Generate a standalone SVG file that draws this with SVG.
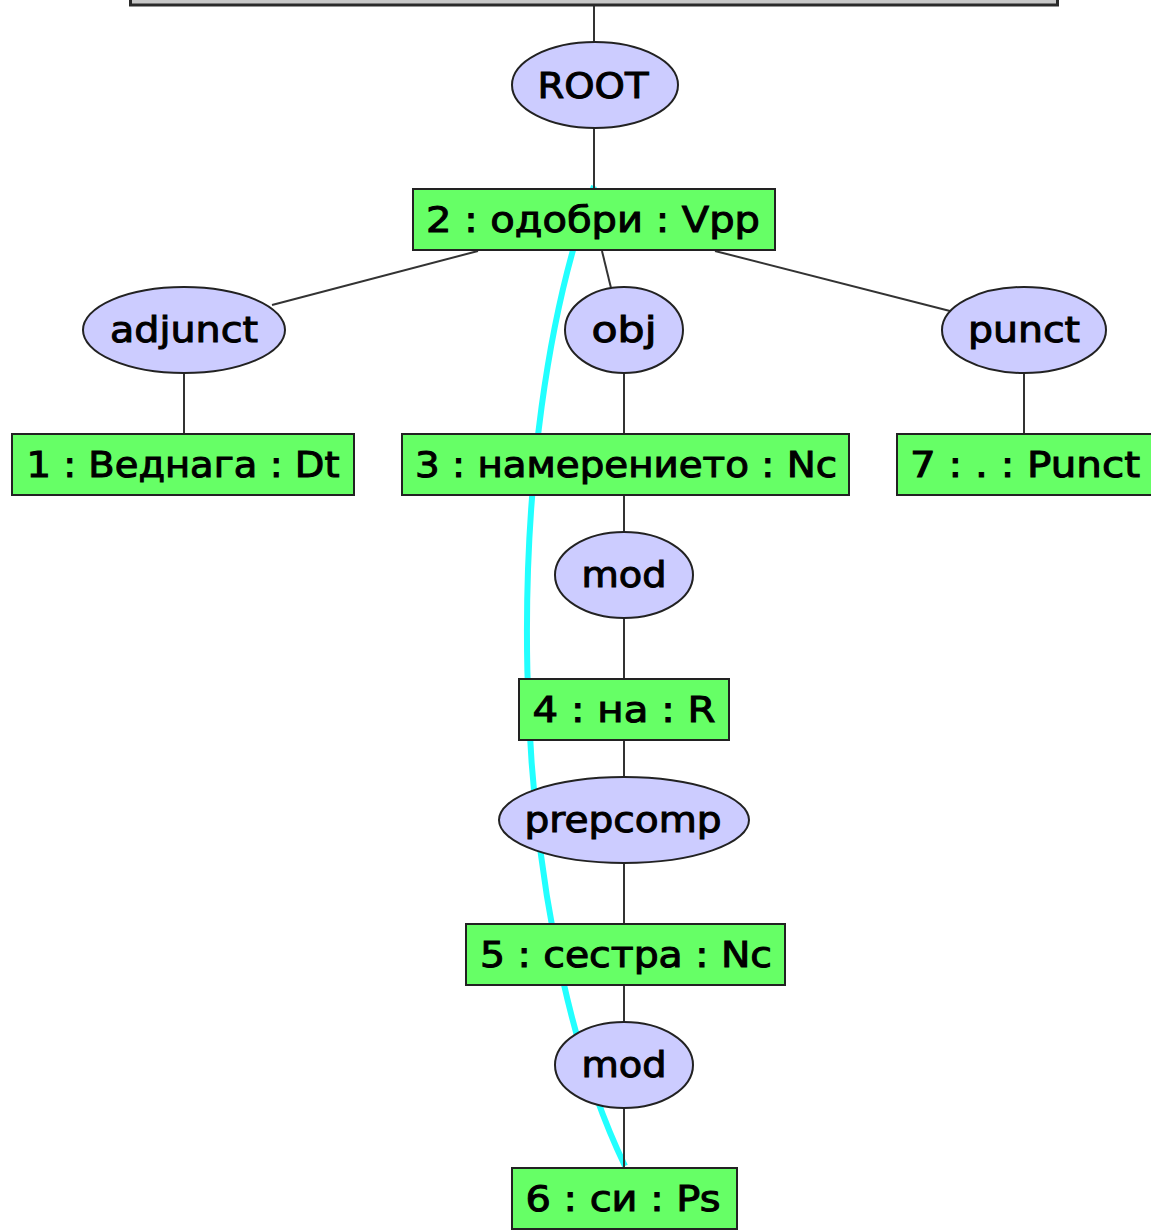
<svg xmlns="http://www.w3.org/2000/svg" width="1151" height="1230" viewBox="0 0 1151 1230">
  <style>
    .bg { fill: #ffffff; }
    .bar { fill: #c8c8c8; stroke: #2a2a2a; stroke-width: 3; }
    .word rect { fill: #66ff66; stroke: #222222; stroke-width: 2; }
    .rel ellipse { fill: #ccccff; stroke: #222222; stroke-width: 2; }
    text { font-family: "DejaVu Sans", Verdana, sans-serif; font-size: 35px; fill: #000000; stroke: #000000; stroke-width: 1; text-anchor: middle; }
    .edges line { stroke: #333333; stroke-width: 2; }
    .trace { fill: none; stroke: #22ffff; stroke-width: 6; }
  </style>

  <rect class="bg" x="0" y="0" width="1151" height="1230"/>

  <!-- highlighted path from the verb down to the possessive -->
  <path class="trace" d="M594,186 C500,433 500,906 625,1166"/>

  <!-- connectors -->
  <g id="edges" class="edges">
    <line x1="594" y1="5" x2="594" y2="42"/>
    <line x1="594" y1="128" x2="594" y2="189"/>
    <line x1="478" y1="251" x2="272" y2="305"/>
    <line x1="602" y1="251" x2="611" y2="288"/>
    <line x1="715" y1="251" x2="950" y2="311"/>
    <line x1="184" y1="373" x2="184" y2="434"/>
    <line x1="624" y1="373" x2="624" y2="434"/>
    <line x1="1024" y1="373" x2="1024" y2="434"/>
    <line x1="624" y1="495" x2="624" y2="532"/>
    <line x1="624" y1="618" x2="624" y2="679"/>
    <line x1="624" y1="740" x2="624" y2="777"/>
    <line x1="624" y1="863" x2="624" y2="924"/>
    <line x1="624" y1="985" x2="624" y2="1022"/>
    <line x1="624" y1="1108" x2="624" y2="1168"/>
  </g>

  <!-- sentence bar at the top -->
  <g id="sentence">
    <rect class="bar" x="130.5" y="-20" width="927" height="25"/>
  </g>

  <g id="root" class="rel">
    <ellipse cx="595" cy="85" rx="83" ry="43"/>
    <text x="593" y="98" textLength="111" lengthAdjust="spacingAndGlyphs">ROOT</text>
  </g>

  <g id="w2" class="word">
    <rect x="413" y="189" width="362" height="61"/>
    <text x="593" y="232" textLength="334" lengthAdjust="spacingAndGlyphs">2 : одобри : Vpp</text>
  </g>

  <g id="r-adjunct" class="rel">
    <ellipse cx="184" cy="330" rx="101" ry="43"/>
    <text x="184" y="342" textLength="148" lengthAdjust="spacingAndGlyphs">adjunct</text>
  </g>

  <g id="r-obj" class="rel">
    <ellipse cx="624" cy="330" rx="59" ry="43"/>
    <text x="624" y="342" textLength="65" lengthAdjust="spacingAndGlyphs">obj</text>
  </g>

  <g id="r-punct" class="rel">
    <ellipse cx="1024" cy="330" rx="82" ry="43"/>
    <text x="1024" y="342" textLength="112" lengthAdjust="spacingAndGlyphs">punct</text>
  </g>

  <g id="w1" class="word">
    <rect x="12" y="434" width="342" height="61"/>
    <text x="183" y="477" textLength="313" lengthAdjust="spacingAndGlyphs">1 : Веднага : Dt</text>
  </g>

  <g id="w3" class="word">
    <rect x="402" y="434" width="447" height="61"/>
    <text x="626" y="477" textLength="422" lengthAdjust="spacingAndGlyphs">3 : намерението : Nc</text>
  </g>

  <g id="w7" class="word">
    <rect x="897" y="434" width="258" height="61"/>
    <text x="1025" y="477" textLength="230" lengthAdjust="spacingAndGlyphs">7 : . : Punct</text>
  </g>

  <g id="r-mod1" class="rel">
    <ellipse cx="624" cy="575" rx="69" ry="43"/>
    <text x="624" y="587" textLength="85" lengthAdjust="spacingAndGlyphs">mod</text>
  </g>

  <g id="w4" class="word">
    <rect x="519" y="679" width="210" height="61"/>
    <text x="624" y="722" textLength="183" lengthAdjust="spacingAndGlyphs">4 : на : R</text>
  </g>

  <g id="r-prepcomp" class="rel">
    <ellipse cx="624" cy="820" rx="125" ry="43"/>
    <text x="623" y="832" textLength="197" lengthAdjust="spacingAndGlyphs">prepcomp</text>
  </g>

  <g id="w5" class="word">
    <rect x="466" y="924" width="319" height="61"/>
    <text x="626" y="967" textLength="292" lengthAdjust="spacingAndGlyphs">5 : сестра : Nc</text>
  </g>

  <g id="r-mod2" class="rel">
    <ellipse cx="624" cy="1065" rx="69" ry="43"/>
    <text x="624" y="1077" textLength="85" lengthAdjust="spacingAndGlyphs">mod</text>
  </g>

  <g id="w6" class="word">
    <rect x="512" y="1168" width="225" height="61"/>
    <text x="623" y="1211" textLength="195" lengthAdjust="spacingAndGlyphs">6 : си : Ps</text>
  </g>
</svg>
